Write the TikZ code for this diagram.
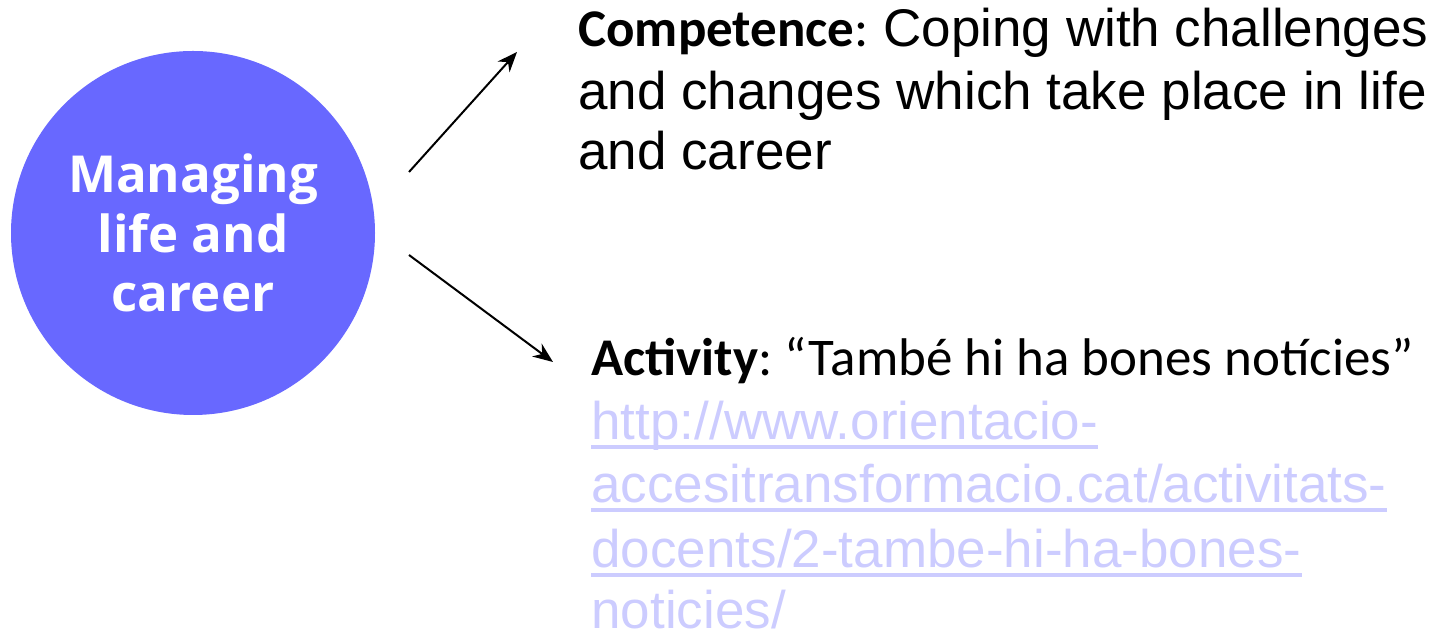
\documentclass[tikz,border=0pt]{standalone}
\usepackage{fontspec}
\usepackage{tikz}
\usetikzlibrary{arrows.meta,positioning}
\newfontfamily\arialf{Liberation Sans}
\newfontfamily\calf{Carlito}
\newfontfamily\segf{Open Sans}
\definecolor{circblue}{RGB}{104,104,255}
\definecolor{linkblue}{RGB}{204,204,255}
\frenchspacing
\tikzset{arrow/.style={-{Stealth[length=10pt,width=8pt]},line width=1pt},
  txt/.style={anchor=base west,inner sep=0pt,font=\arialf\fontsize{26.5}{30}\selectfont},
  urltxt/.style={txt,text=linkblue},
  uline/.style={linkblue,line width=1.7pt}}

\begin{document}
\begin{tikzpicture}[x=0.5pt,y=0.5pt]
      \useasboundingbox (0,0) rectangle (1440,636);
      \node[circle,fill=circblue,minimum size=182pt,inner sep=0pt,text=white,align=center,
        font=\segf\bfseries\fontsize{25.5}{29.75}\selectfont](mlc)at(193,403){Managing\\life and\\career};
      % competence
      \node[txt](comp1)at(578,589){{\calf\bfseries Competence}{\calf:} Coping with challenges};
      \node[txt](comp2)at(578,526){and changes which take place in life};
      \node[txt](comp3)at(578,466){and career};
      % activity
      \node[txt,font=\calf\fontsize{26.5}{30}\selectfont](act)at(591,260){\textbf{Activity}: “També hi ha bones notícies”};
      \node[urltxt](url1)at(591,196){http://www.orientacio-};
      \node[urltxt](url2)at(591,133){accesitransformacio.cat/activitats-};
      \node[urltxt](url3)at(591,68){docents/2-tambe-hi-ha-bones-};
      \node[urltxt](url4)at(591,7){noticies/};
      \foreach \u in {url1,url2,url3}
        \draw[uline]([yshift=-3.5pt]\u.base west)--([yshift=-3.5pt]\u.base east);
      % arrows
      \coordinate(up0)at(409,464);
      \coordinate(up1)at(517,584);
      \coordinate(dn0)at(409,381);
      \coordinate(dn1)at(553,274);
      \draw[arrow](up0)--(up1);
      \draw[arrow](dn0)--(dn1);
    \end{tikzpicture}
\end{document}
